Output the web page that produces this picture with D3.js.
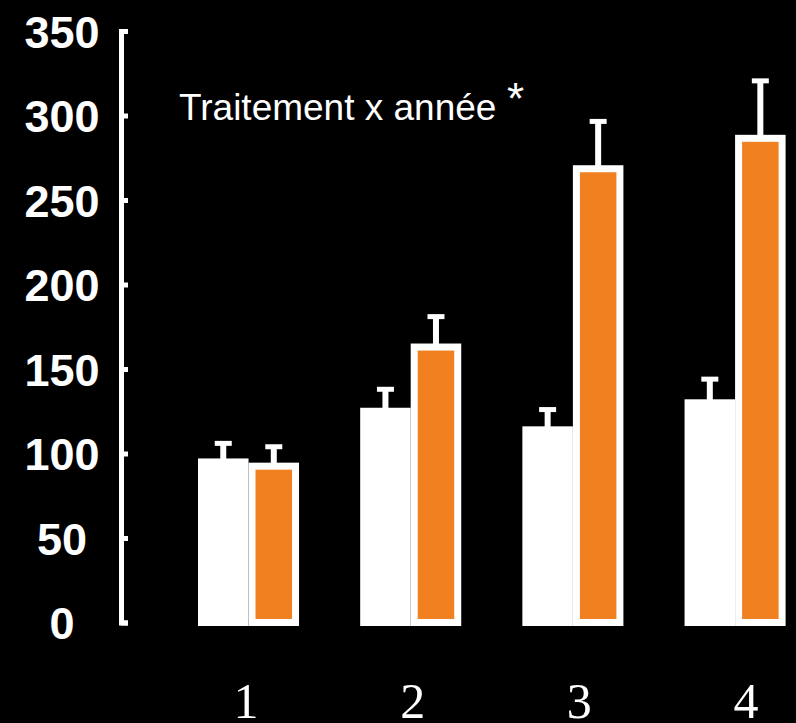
<!DOCTYPE html>
<html><head><meta charset="utf-8">
<script src="https://cdn.jsdelivr.net/npm/d3@7"></script>
<style>html,body{margin:0;padding:0;background:#000;}svg{display:block;}</style>
</head><body>
<svg id="chart" width="796" height="723"></svg>
<script>
const categories = ["1", "2", "3", "4"];
const series = ["temoin", "traitement"];
const temoinValues = [95, 125, 114, 130];
const temoinErrors = [11, 13, 12, 14];
const traitementValues = [92.5, 163, 268.5, 286.5];
const traitementErrors = [11.5, 18, 28, 34];
const yTicks = [0, 50, 100, 150, 200, 250, 300, 350];
const annotation = "Traitement x année";
const colors = {temoin: "#ffffff", traitement: "#F08020"};

const svg = d3.select("#chart");
svg.append("rect").attr("width", 796).attr("height", 723).attr("fill", "#000");

const y = d3.scaleLinear().domain([0, 350]).range([622.5, 31]);
const x0 = d3.scaleBand().domain(categories).range([198, 785.6]).paddingInner(0.377).paddingOuter(0);
const x1 = d3.scaleBand().domain(series).range([0, x0.bandwidth()]).padding(0);
const xLab = d3.scalePoint().domain(categories).range([246, 746]);

const data = categories.map((c, i) => ({
  cat: c,
  vals: [
    {s: "temoin", v: temoinValues[i], e: temoinErrors[i]},
    {s: "traitement", v: traitementValues[i], e: traitementErrors[i]}
  ]
}));

const sw = 7;
const g = svg.selectAll("g.grp").data(data).join("g").attr("class", "grp")
  .attr("transform", d => `translate(${x0(d.cat)},0)`);

g.selectAll("line.stem").data(d => d.vals).join("line").attr("class", "stem")
  .attr("x1", d => x1(d.s) + x1.bandwidth() / 2)
  .attr("x2", d => x1(d.s) + x1.bandwidth() / 2)
  .attr("y1", d => y(d.v))
  .attr("y2", d => y(d.v + d.e))
  .attr("stroke", "#fff").attr("stroke-width", 6);
g.selectAll("line.cap").data(d => d.vals).join("line").attr("class", "cap")
  .attr("x1", d => x1(d.s) + x1.bandwidth() / 2 - 8.5)
  .attr("x2", d => x1(d.s) + x1.bandwidth() / 2 + 8.5)
  .attr("y1", d => y(d.v + d.e))
  .attr("y2", d => y(d.v + d.e))
  .attr("stroke", "#fff").attr("stroke-width", 5);

g.selectAll("rect.bar").data(d => d.vals).join("rect").attr("class", "bar")
  .attr("x", d => x1(d.s) + sw / 2)
  .attr("width", x1.bandwidth() - sw)
  .attr("y", d => y(d.v))
  .attr("height", d => y(0) - y(d.v))
  .attr("fill", d => colors[d.s])
  .attr("stroke", "#fff")
  .attr("stroke-width", sw);

const axis = d3.axisLeft(y).tickValues(yTicks).tickSizeInner(-7).tickSizeOuter(-7).tickFormat(d3.format("d"));
const ag = svg.append("g").attr("transform", "translate(121,0)").call(axis);
ag.select(".domain").attr("stroke", "#fff").attr("stroke-width", 5).attr("fill", "none");
ag.selectAll(".tick line").attr("stroke", "#fff").attr("stroke-width", 5);
ag.selectAll(".tick text")
  .attr("fill", "#fff")
  .attr("x", -59)
  .attr("dy", "0.36em")
  .attr("text-anchor", "middle")
  .style("font-family", "'Liberation Sans', Arial, sans-serif")
  .style("font-weight", "bold")
  .style("font-size", "45px");

svg.selectAll("text.xlab").data(categories).join("text").attr("class", "xlab")
  .attr("x", d => xLab(d))
  .attr("y", 718)
  .attr("text-anchor", "middle")
  .attr("fill", "#fff")
  .style("font-family", "'Liberation Serif', 'Times New Roman', serif")
  .style("font-size", "50px")
  .text(d => d);

svg.append("text")
  .attr("x", 179).attr("y", 120)
  .attr("fill", "#fff")
  .style("font-family", "'Liberation Sans', Arial, sans-serif")
  .style("font-size", "37px")
  .text(annotation);
svg.append("text")
  .attr("x", 507).attr("y", 114)
  .attr("fill", "#fff")
  .style("font-family", "'Liberation Sans', Arial, sans-serif")
  .style("font-size", "44px")
  .text("*");
</script>
</body></html>
